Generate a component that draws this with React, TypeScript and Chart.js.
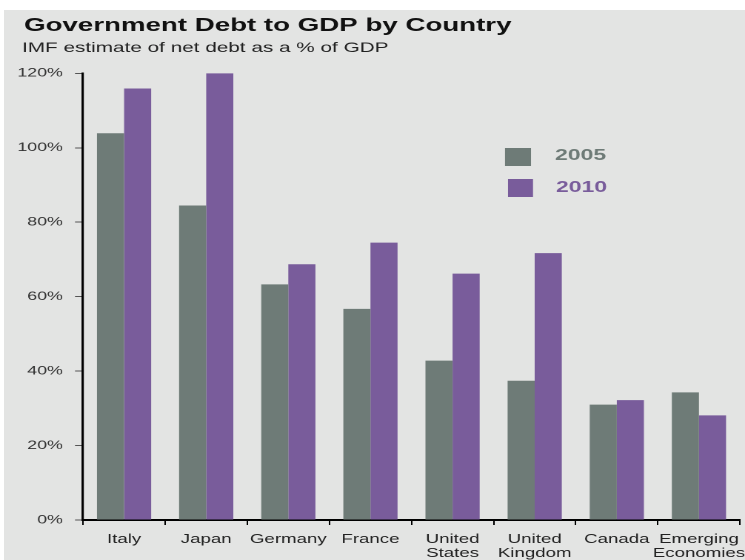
import React, { useEffect, useRef } from "react";
import { Chart, registerables } from "chart.js";

Chart.register(...registerables);

// ---- data ----
const categories: (string | string[])[] = [
  "Italy",
  "Japan",
  "Germany",
  "France",
  ["United", "States"],
  ["United", "Kingdom"],
  "Canada",
  ["Emerging", "Economies"],
];
const debt2005 = [103.9, 84.5, 63.3, 56.7, 42.8, 37.4, 31.0, 34.3];
const debt2010 = [115.9, 120.0, 68.7, 74.5, 66.2, 71.7, 32.2, 28.1];
const seriesNames = ["2005", "2010"];
const yTickValues = [0, 20, 40, 60, 80, 100, 120];
const yTickLabels = ["0%", "20%", "40%", "60%", "80%", "100%", "120%"];
const titleText = "Government Debt to GDP by Country";
const subtitleText = "IMF estimate of net debt as a % of GDP";

// ---- style ----
const PAGE_W = 745;
const PAGE_H = 560;
const INNER_W = 503;
const S = PAGE_W / INNER_W; // horizontal stretch of the original picture
const COLOR_2005 = "#6e7b77";
const COLOR_2010 = "#795c9b";
const BG = "#e3e4e3";
const FONT = '"Liberation Sans", Arial, Helvetica, sans-serif';

const decorPlugin = {
  id: "decor",
  afterDraw(chart: any) {
    const ctx = chart.ctx as CanvasRenderingContext2D;
    ctx.save();
    ctx.textBaseline = "alphabetic";
    ctx.textAlign = "left";
    // title
    ctx.fillStyle = "#111111";
    ctx.font = `bold 18.7px ${FONT}`;
    ctx.fillText(titleText, 24 / S, 31);
    // subtitle
    ctx.fillStyle = "#222222";
    ctx.font = `14px ${FONT}`;
    ctx.fillText(subtitleText, 22 / S, 52);
    // legend
    const ds = chart.data.datasets;
    const items = [
      { sx: 505 / S, sy: 148, sw: 26 / S, tx: 555 / S, ty: 160 },
      { sx: 508 / S, sy: 179, sw: 25 / S, tx: 556 / S, ty: 192 },
    ];
    ctx.font = `bold 15.5px ${FONT}`;
    items.forEach((it, i) => {
      const color = ds[i].backgroundColor as string;
      ctx.fillStyle = color;
      ctx.fillRect(it.sx, it.sy, it.sw, 18);
      ctx.fillText(ds[i].label, it.tx, it.ty);
    });
    ctx.restore();
  },
};

export default function App() {
  const canvasRef = useRef<HTMLCanvasElement | null>(null);

  useEffect(() => {
    const canvas = canvasRef.current;
    if (!canvas) return;
    Chart.defaults.font.family = FONT;
    const chart = new Chart(canvas, {
      type: "bar",
      data: {
        labels: categories as any,
        datasets: [
          {
            label: seriesNames[0],
            data: debt2005,
            backgroundColor: COLOR_2005,
            borderWidth: 0,
            categoryPercentage: 0.66,
            barPercentage: 1.0,
          },
          {
            label: seriesNames[1],
            data: debt2010,
            backgroundColor: COLOR_2010,
            borderWidth: 0,
            categoryPercentage: 0.66,
            barPercentage: 1.0,
          },
        ],
      },
      options: {
        responsive: false,
        animation: false,
        devicePixelRatio: 2,
        layout: {
          padding: { top: 73.3, left: 0, right: 5 / S, bottom: 0 },
        },
        plugins: {
          legend: { display: false },
          title: { display: false },
          tooltip: { enabled: false },
        },
        scales: {
          x: {
            offset: true,
            grid: {
              display: true,
              drawOnChartArea: false,
              drawTicks: true,
              tickLength: 5,
              color: "#000000",
              lineWidth: 1,
              offset: true,
            },
            border: { display: true, color: "#000000", width: 2 },
            ticks: {
              color: "#222222",
              font: { size: 12.6, lineHeight: 1.12 },
              padding: 7.5,
              maxRotation: 0,
              minRotation: 0,
              autoSkip: false,
            },
            afterFit(scale: any) {
              scale.height = PAGE_H - 520;
              scale.paddingLeft = 0;
              scale.paddingRight = 0;
            },
          },
          y: {
            min: 0,
            max: 120,
            afterBuildTicks(scale: any) {
              scale.ticks = yTickValues.map((v) => ({ value: v }));
            },
            grid: {
              display: true,
              drawOnChartArea: false,
              drawTicks: true,
              tickLength: 5.4,
              color: "#555555",
              lineWidth: 1,
            },
            border: { display: true, color: "#000000", width: 1.6 },
            ticks: {
              color: "#333333",
              font: { size: 12 },
              padding: 8.2,
              callback: (value: any) => {
                const i = yTickValues.indexOf(Number(value));
                return i >= 0 ? yTickLabels[i] : "";
              },
            },
            afterFit(scale: any) {
              scale.width = 83 / S;
            },
          },
        },
      },
      plugins: [decorPlugin],
    });
    return () => chart.destroy();
  }, []);

  return (
    <div
      style={{
        position: "fixed",
        left: 0,
        top: 0,
        width: PAGE_W,
        height: PAGE_H,
        background: "#ffffff",
        overflow: "hidden",
      }}
    >
      <div
        style={{
          position: "absolute",
          left: 4,
          top: 10,
          right: 0,
          bottom: 0,
          background: BG,
        }}
      />
      <div
        style={{
          position: "absolute",
          left: 0,
          top: 0,
          width: INNER_W,
          height: PAGE_H,
          transform: `scaleX(${S})`,
          transformOrigin: "0 0",
        }}
      >
        <canvas
          ref={canvasRef}
          width={INNER_W}
          height={PAGE_H}
          style={{ display: "block", width: INNER_W, height: PAGE_H }}
        />
      </div>
    </div>
  );
}
